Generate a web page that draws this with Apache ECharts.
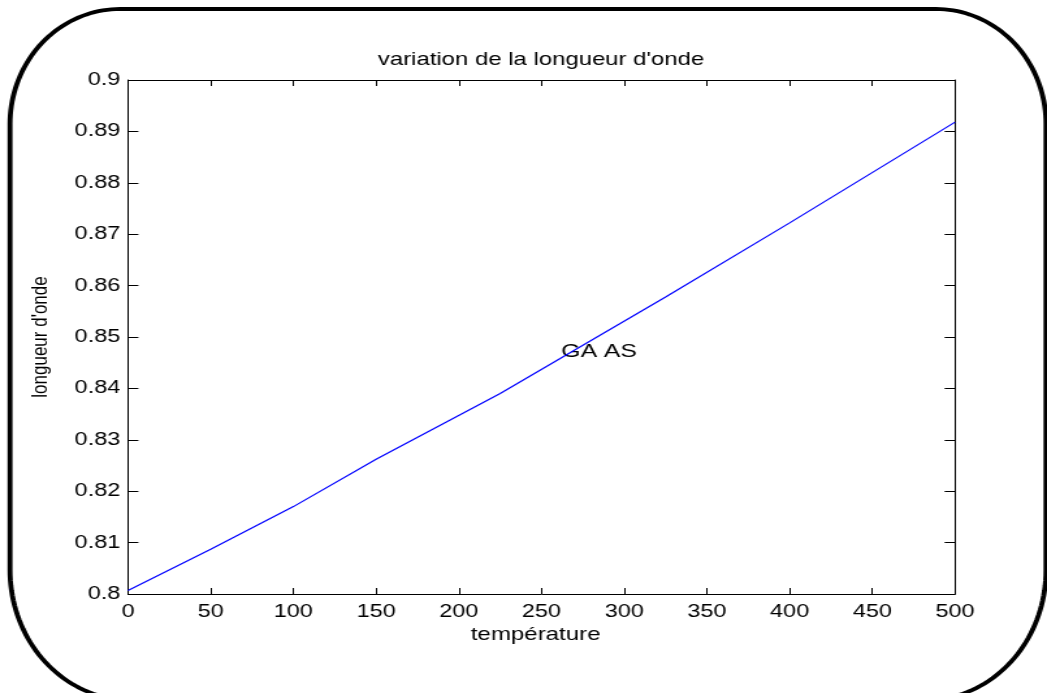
<!DOCTYPE html>
<html>
<head>
<meta charset="utf-8">
<script src="https://cdn.jsdelivr.net/npm/echarts@6/dist/echarts.min.js"></script>
<style>
  html, body { margin: 0; padding: 0; background: #ffffff; overflow: hidden; }
  /* The figure is laid out on a narrower canvas and widened horizontally,
     which gives the broad, stretched lettering of the exported plot. */
  #chart { width: 805px; height: 693px; transform: scaleX(1.30062); transform-origin: 0 0; }
</style>
</head>
<body>
<div id="chart"></div>
<script>
// Wavelength (µm) of GaAs versus temperature
const temperatures = [0, 50, 100, 150, 225, 325, 400, 500];
const wavelengths  = [0.8007, 0.8087, 0.8170, 0.8262, 0.8390, 0.8578, 0.8722, 0.8918];

const titleText = "variation de la longueur d'onde";
const xName = 'température';
const yName = "longueur d'onde";

// Text annotation placed in data coordinates
const annotationPoint = [262, 0.8472];
const annotationText = 'GA AS';

const FONT = "'Liberation Sans', Arial, Helvetica, sans-serif";
const SX = 1.30062; // horizontal widening factor of the page

// Outline of the rounded frame around the whole figure, as a closed polygon
function framePoints() {
  const L = 10 / SX, R = 1046 / SX, T = 9, B = 700;
  const rx1 = 110 / SX, ry1 = 115, rx2 = 120 / SX, ry2 = 130;
  const pts = [];
  const corner = (cx, cy, rx, ry, a0, a1) => {
    const n = 40;
    for (let i = 0; i <= n; i++) {
      const a = a0 + (a1 - a0) * i / n;
      pts.push([cx + rx * Math.cos(a), cy + ry * Math.sin(a)]);
    }
  };
  corner(L + rx1, T + ry1, rx1, ry1, Math.PI, 1.5 * Math.PI);       // top-left
  corner(R - rx1, T + ry1, rx1, ry1, 1.5 * Math.PI, 2 * Math.PI);   // top-right
  corner(R - rx2, B - ry2, rx2, ry2, 0, 0.5 * Math.PI);             // bottom-right
  corner(L + rx2, B - ry2, rx2, ry2, 0.5 * Math.PI, Math.PI);       // bottom-left
  return pts;
}

const chart = echarts.init(document.getElementById('chart'), null, { renderer: 'canvas' });

const axisLine = { show: true, onZero: false, lineStyle: { color: '#000', width: 1 } };
const fmtY = v => String(parseFloat(v.toFixed(2)));

chart.setOption({
  animation: false,
  backgroundColor: '#ffffff',
  grid: { left: 98.4, right: 70.7, top: 80, bottom: 99, containLabel: false },
  graphic: [
    {
      type: 'polygon',
      silent: true,
      shape: { points: framePoints() },
      style: { fill: 'none', stroke: '#000', lineWidth: 3.8 }
    },
    {
      type: 'text',
      silent: true,
      x: 416, y: 60,
      style: {
        text: titleText, fill: '#000', font: '18.4px ' + FONT,
        textAlign: 'center', textVerticalAlign: 'middle'
      }
    }
  ],
  xAxis: [
    {
      type: 'value', position: 'bottom', min: 0, max: 500, interval: 50,
      axisLine: axisLine,
      axisTick: { show: true, inside: true, length: 6, lineStyle: { color: '#000' } },
      axisLabel: { show: true, margin: 9, color: '#000', fontSize: 18, fontFamily: FONT },
      splitLine: { show: false },
      name: xName, nameLocation: 'middle', nameGap: 30,
      nameTextStyle: { color: '#000', fontSize: 18.5, fontFamily: FONT, padding: [0, 9, 0, 0] }
    },
    {
      type: 'value', position: 'top', min: 0, max: 500, interval: 50,
      axisLine: axisLine,
      axisTick: { show: true, inside: true, length: 6, lineStyle: { color: '#000' } },
      axisLabel: { show: false },
      splitLine: { show: false }
    }
  ],
  yAxis: [
    {
      type: 'value', position: 'left', min: 0.8, max: 0.9, interval: 0.01,
      axisLine: axisLine,
      axisTick: { show: true, inside: true, length: 8, lineStyle: { color: '#000' } },
      axisLabel: { show: true, margin: 6, color: '#000', fontSize: 18, fontFamily: FONT, formatter: fmtY },
      splitLine: { show: false },
      name: yName, nameLocation: 'middle', nameGap: 58.5,
      nameTextStyle: { color: '#000', fontSize: 17, fontFamily: FONT }
    },
    {
      type: 'value', position: 'right', min: 0.8, max: 0.9, interval: 0.01,
      axisLine: axisLine,
      axisTick: { show: true, inside: true, length: 8, lineStyle: { color: '#000' } },
      axisLabel: { show: false },
      splitLine: { show: false }
    }
  ],
  series: [
    {
      type: 'line',
      xAxisIndex: 0, yAxisIndex: 0,
      data: temperatures.map((t, i) => [t, wavelengths[i]]),
      symbol: 'none',
      lineStyle: { color: '#0000ff', width: 1.2 },
      silent: true
    },
    {
      type: 'scatter',
      xAxisIndex: 0, yAxisIndex: 0,
      data: [annotationPoint],
      symbolSize: 0,
      itemStyle: { color: 'transparent', opacity: 1 },
      silent: true,
      label: {
        show: true, position: 'right', distance: 0,
        formatter: annotationText,
        color: '#000', fontSize: 19, fontFamily: FONT
      }
    }
  ]
});
</script>
</body>
</html>
